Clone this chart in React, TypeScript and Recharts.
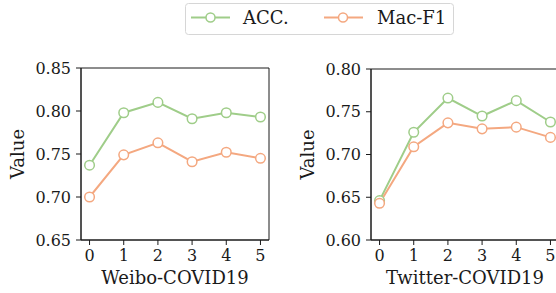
import React from 'react';
import { LineChart, Line, XAxis, YAxis, Legend, ReferenceArea } from 'recharts';

const xTicks = [0, 1, 2, 3, 4, 5];
const accWeibo = [0.737, 0.798, 0.81, 0.791, 0.798, 0.793];
const macWeibo = [0.7, 0.749, 0.763, 0.741, 0.752, 0.745];
const accTwitter = [0.646, 0.726, 0.766, 0.745, 0.763, 0.738];
const macTwitter = [0.643, 0.709, 0.737, 0.73, 0.732, 0.72];
const weiboYTicks = [0.65, 0.7, 0.75, 0.8, 0.85];
const twitterYTicks = [0.6, 0.65, 0.7, 0.75, 0.8];
const seriesNames = ['ACC.', 'Mac-F1'];

const GREEN = '#9fcd89';
const ORANGE = '#f4a880';
const FONT = '"DejaVu Serif", serif';
const INK = '#1a1a1a';
const X_MIN = -0.25;
const X_MAX = 5.25;

const buildRows = (acc: number[], mac: number[]) =>
  xTicks.map((x, i) => ({ x, acc: acc[i], mac: mac[i] }));

const LegendBox = () => (
  <svg width={270} height={33}>
    <rect x={0.5} y={0.5} width={268} height={31} rx={3} ry={3} fill="#fff" stroke="#d6d6d6" strokeWidth={1} />
    <line x1={6} y1={14.5} x2={45} y2={14.5} stroke={GREEN} strokeWidth={2} />
    <circle cx={25.5} cy={14.5} r={4.5} fill="#fff" stroke={GREEN} strokeWidth={1.5} />
    <text x={58} y={21} fontFamily={FONT} fontSize={18} fill={INK}>{seriesNames[0]}</text>
    <line x1={139} y1={14.5} x2={178} y2={14.5} stroke={ORANGE} strokeWidth={2} />
    <circle cx={158} cy={14.5} r={4.5} fill="#fff" stroke={ORANGE} strokeWidth={1.5} />
    <text x={192} y={21} fontFamily={FONT} fontSize={18} fill={INK}>{seriesNames[1]}</text>
  </svg>
);

type PanelProps = {
  acc: number[];
  mac: number[];
  yTicks: number[];
  xLabel: string;
  top: number;
  withLegend?: boolean;
};

const Panel = ({ acc, mac, yTicks, xLabel, top, withLegend }: PanelProps) => {
  const rows = buildRows(acc, mac);
  const yMin = yTicks[0];
  const yMax = yTicks[yTicks.length - 1];
  return (
    <LineChart width={275} height={293} data={rows} margin={{ top, right: 6, bottom: 0, left: 0 }}>
      <XAxis
        dataKey="x"
        type="number"
        domain={[X_MIN, X_MAX]}
        ticks={xTicks}
        height={53}
        tickSize={5}
        tickMargin={5}
        stroke={INK}
        tick={{ fontSize: 16, fill: INK, fontFamily: FONT }}
        fontSize={16}
        allowDataOverflow
        label={(p: any) => {
          const vb = p.viewBox;
          return (
            <text x={vb.x + vb.width / 2} y={284} textAnchor="middle" fontFamily={FONT} fontSize={18} fill={INK}>
              {xLabel}
            </text>
          );
        }}
      />
      <YAxis
        type="number"
        domain={[yMin, yMax]}
        ticks={yTicks}
        width={81}
        tickSize={5}
        tickMargin={5}
        stroke={INK}
        tick={{ fontSize: 16, fill: INK, fontFamily: FONT }}
        fontSize={16}
        tickFormatter={(v: number) => v.toFixed(2)}
        allowDataOverflow
        label={(p: any) => {
          const vb = p.viewBox;
          const cx = 17.5;
          const cy = vb.y + vb.height / 2;
          return (
            <text x={cx} y={cy} transform={`rotate(-90 ${cx} ${cy})`} textAnchor="middle" dominantBaseline="central" fontFamily={FONT} fontSize={18} fill={INK}>
              Value
            </text>
          );
        }}
      />
      <ReferenceArea
        x1={X_MIN}
        x2={X_MAX}
        y1={yMin}
        y2={yMax}
        fill="none"
        fillOpacity={0}
        stroke={INK}
        strokeWidth={1}
        strokeOpacity={1}
        ifOverflow="visible"
      />
      <Line
        type="linear"
        dataKey="acc"
        name={seriesNames[0]}
        stroke={GREEN}
        strokeWidth={2}
        dot={{ r: 4.8, fill: '#fff', stroke: GREEN, strokeWidth: 1.5 }}
        isAnimationActive={false}
      />
      <Line
        type="linear"
        dataKey="mac"
        name={seriesNames[1]}
        stroke={ORANGE}
        strokeWidth={2}
        dot={{ r: 4.8, fill: '#fff', stroke: ORANGE, strokeWidth: 1.5 }}
        isAnimationActive={false}
      />
      {withLegend && (
        <Legend
          layout="horizontal"
          verticalAlign="middle"
          align="center"
          content={() => <LegendBox />}
          wrapperStyle={{ position: 'absolute', left: 185, top: 3, width: 270, height: 33 }}
        />
      )}
    </LineChart>
  );
};

export default function App() {
  return (
    <div style={{ position: 'absolute', left: 0, top: 0, width: 556, height: 293, overflow: 'hidden', background: '#fff' }}>
      <div style={{ position: 'absolute', left: 0, top: 0 }}>
        <Panel acc={accWeibo} mac={macWeibo} yTicks={weiboYTicks} xLabel="Weibo-COVID19" top={68} withLegend />
      </div>
      <div style={{ position: 'absolute', left: 290, top: 0 }}>
        <Panel acc={accTwitter} mac={macTwitter} yTicks={twitterYTicks} xLabel="Twitter-COVID19" top={69} />
      </div>
    </div>
  );
}
